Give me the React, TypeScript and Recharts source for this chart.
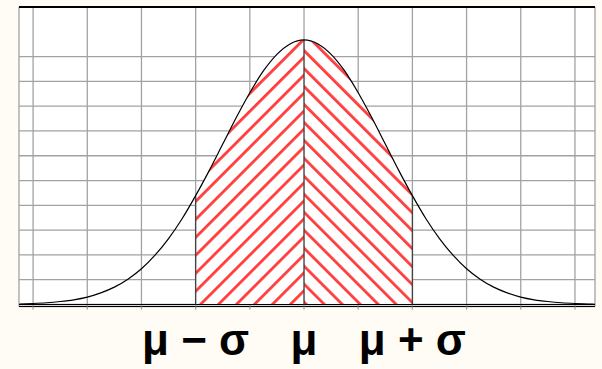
import {
  Area,
  CartesianGrid,
  ComposedChart,
  Line,
  ReferenceLine,
  XAxis,
  YAxis,
} from "recharts";

// x in grid units (one vertical grid line each), heights in grid units
const xs = [
  -5.25, -5, -4.75, -4.5, -4.25, -4, -3.75, -3.5, -3.25, -3, -2.75, -2.5,
  -2.25, -2, -1.75, -1.5, -1.25, -1, -0.75, -0.5, -0.25, 0, 0.25, 0.5, 0.75,
  1, 1.25, 1.5, 1.75, 2, 2.25, 2.5, 2.75, 3, 3.25, 3.5, 3.75, 4, 4.25, 4.5,
  4.75, 5, 5.25, 5.37,
];
const heights = [
  0.02, 0.04, 0.07, 0.12, 0.19, 0.3, 0.47, 0.7, 1.02, 1.44, 1.99, 2.66, 3.46,
  4.39, 5.4, 6.47, 7.54, 8.54, 9.42, 10.09, 10.52, 10.67, 10.52, 10.09, 9.42,
  8.54, 7.54, 6.47, 5.4, 4.39, 3.46, 2.66, 1.99, 1.44, 1.02, 0.7, 0.47, 0.3,
  0.19, 0.12, 0.07, 0.04, 0.02, 0.01,
];

const gridTicksX = [-5, -4, -3, -2, -1, 0, 1, 2, 3, 4, 5];
const gridTicksY = [0, 1, 2, 3, 4, 5, 6, 7, 8, 9, 10, 11, 12];
const labelTicks = [-2, 0, 2];
const labelTexts = ["μ − σ", "μ", "μ + σ"];
const bandLow = -2;
const mean = 0;
const bandHigh = 2;

const data = xs.map((x, i) => ({
  x,
  y: heights[i],
  left: x >= bandLow && x <= mean ? heights[i] : null,
  right: x >= mean && x <= bandHigh ? heights[i] : null,
}));

const heightAt = (x: number) => heights[xs.indexOf(x)];

const GRID = "#a2a2a2";
const HATCH = "#ff3d3d";

function LabelTick(props: any) {
  const { x, y, payload } = props;
  const i = labelTicks.indexOf(payload.value);
  if (i < 0) return <g />;
  return (
    <text
      x={x}
      y={y}
      dy={43}
      textAnchor="middle"
      fontFamily="'Liberation Sans', Arial, sans-serif"
      fontWeight="bold"
      fontSize={44}
      fill="#000"
    >
      {labelTexts[i]}
    </text>
  );
}

export default function App() {
  return (
    <div
      style={{
        position: "absolute",
        left: 0,
        top: 0,
        width: 602,
        height: 369,
        background: "#fefcf5",
      }}
    >
      <ComposedChart
        width={602}
        height={369}
        data={data}
        margin={{ top: 7, right: 7, bottom: 0, left: 19 }}
      >
        <defs>
          <pattern
            id="hatchLeft"
            patternUnits="userSpaceOnUse"
            width={12.7}
            height={12.7}
            patternTransform="rotate(45)"
          >
            <rect x={0} y={0} width={12.7} height={12.7} fill="#fff" />
            <rect x={0} y={0} width={2.8} height={12.7} fill={HATCH} />
          </pattern>
          <pattern
            id="hatchRight"
            patternUnits="userSpaceOnUse"
            width={12.7}
            height={12.7}
            patternTransform="rotate(-45)"
          >
            <rect x={0} y={0} width={12.7} height={12.7} fill="#fff" />
            <rect x={0} y={0} width={2.8} height={12.7} fill={HATCH} />
          </pattern>
        </defs>
        <CartesianGrid
          fill="#fff"
          stroke={GRID}
          strokeWidth={1.3}
          vertical
          horizontal
        />
        <XAxis
          dataKey="x"
          type="number"
          domain={[-5.26, 5.37]}
          ticks={gridTicksX}
          interval={0}
          height={62.5}
          axisLine={{ stroke: "#000", strokeWidth: 1 }}
          tickLine={{ stroke: GRID, strokeWidth: 1.3 }}
          tickSize={3}
          tick={<LabelTick />}
          allowDataOverflow
        />
        <YAxis
          hide
          type="number"
          domain={[-0.0807, 12]}
          ticks={gridTicksY}
          allowDataOverflow
        />
        <Area
          dataKey="left"
          type="monotone"
          fill="url(#hatchLeft)"
          fillOpacity={1}
          stroke="none"
          baseValue={0}
          isAnimationActive={false}
        />
        <Area
          dataKey="right"
          type="monotone"
          fill="url(#hatchRight)"
          fillOpacity={1}
          stroke="none"
          baseValue={0}
          isAnimationActive={false}
        />
        <ReferenceLine y={12} stroke="#000" strokeWidth={2.2} />
        <ReferenceLine y={0} stroke="#000" strokeWidth={1} />
        {[bandLow, mean, bandHigh].map((v) => (
          <ReferenceLine
            key={v}
            segment={[
              { x: v, y: 0 },
              { x: v, y: heightAt(v) },
            ]}
            stroke="#444"
            strokeWidth={1.4}
          />
        ))}
        <Line
          dataKey="y"
          type="monotone"
          stroke="#000"
          strokeWidth={1.2}
          dot={false}
          isAnimationActive={false}
        />
      </ComposedChart>
    </div>
  );
}
